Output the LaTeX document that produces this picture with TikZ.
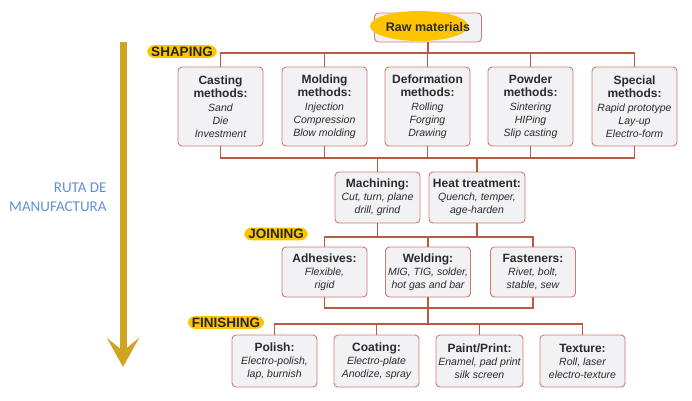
\documentclass[tikz,border=0pt]{standalone}
\usepackage{fontspec}
\setmainfont{Liberation Sans}
\newfontfamily\calib{Carlito}
\usetikzlibrary{arrows.meta}
\definecolor{wireC}{RGB}{186,88,66}
\definecolor{boxC}{RGB}{206,122,112}
\definecolor{fillC}{RGB}{242,242,244}
\definecolor{hiY}{RGB}{255,196,0}
\definecolor{goldC}{RGB}{207,163,35}
\definecolor{blueC}{RGB}{95,145,215}
\definecolor{textC}{RGB}{42,42,48}
\newcommand{\hd}[1]{{\fontsize{12}{13}\selectfont\bfseries\upshape #1}}

\begin{document}
\begin{tikzpicture}[x=1pt,y=-1pt,
  box/.style={draw=boxC,fill=fillC,rounded corners=4pt,line width=0.9pt,align=center,text=textC,
    font=\itshape\fontsize{10.5}{13}\selectfont,minimum width=85pt,inner sep=2pt},
  wire/.style={wireC,line width=1.8pt},
  tag/.style={fill=hiY,rounded corners=7pt,font=\bfseries\fontsize{13.5}{15}\selectfont,text=black!85,
    inner xsep=4pt,inner ysep=1.5pt}]
\useasboundingbox (0,0) rectangle (692,400);
% manufacturing route arrow
\draw[goldC,line width=7pt,-{Stealth[length=29pt,width=32pt,inset=13pt]}] (123,42) -- (123,367);
\node[blueC,anchor=east,align=right,font=\calib\fontsize{15}{19}\selectfont] (ruta) at (110,197) {RUTA DE\\MANUFACTURA};
% raw materials, highlighted
\node[box,minimum width=107pt,minimum height=29pt] (raw) at (428,27.5) {};
\fill[hiY] (419,26) ellipse (49 and 15);
\node[text=textC,font=\bfseries\fontsize{12.5}{14}\selectfont] (rawtxt) at (raw.center) {Raw materials};
% shaping
\node[box,minimum height=79pt] (cast) at (220.5,106.5) {\hd{Casting}\\\hd{methods:}\\[1.5pt]Sand\\Die\\Investment};
\node[box,minimum height=79pt] (mold) at (324.5,106.5) {\hd{Molding}\\\hd{methods:}\\[1.5pt]Injection\\Compression\\Blow molding};
\node[box,minimum height=79pt] (deform) at (427.5,106.5) {\hd{Deformation}\\\hd{methods:}\\[1.5pt]Rolling\\Forging\\Drawing};
\node[box,minimum height=79pt] (powder) at (530.5,106.5) {\hd{Powder}\\\hd{methods:}\\[1.5pt]Sintering\\HIPing\\Slip casting};
\node[box,minimum height=79pt] (special) at (634.5,106.5) {\hd{Special}\\\hd{methods:}\\[1.5pt]Rapid prototype\\Lay-up\\Electro-form};
\node[box,minimum height=51pt] (mach) at (377.5,197.5) {\hd{Machining:}\\Cut, turn, plane\\drill, grind};
\node[box,minimum height=51pt,minimum width=96pt] (heat) at (477,197.5) {\hd{Heat treatment:}\\Quench, temper,\\age-harden};
% joining
\node[box,minimum height=50pt] (adhes) at (324.5,272) {\hd{Adhesives:}\\Flexible,\\rigid};
\node[box,minimum height=50pt] (weld) at (428,272) {\hd{Welding:}\\MIG, TIG, solder,\\hot gas and bar};
\node[box,minimum height=50pt] (fasten) at (533,272) {\hd{Fasteners:}\\Rivet, bolt,\\stable, sew};
% finishing
\node[box,minimum height=52pt] (polish) at (274.5,361) {\hd{Polish:}\\Electro-polish,\\lap, burnish};
\node[box,minimum height=52pt] (coat) at (376.5,361) {\hd{Coating:}\\Electro-plate\\Anodize, spray};
\node[box,minimum height=52pt,minimum width=87pt] (paint) at (479.5,361) {\hd{Paint/Print:}\\Enamel, pad print\\silk screen};
\node[box,minimum height=52pt] (texture) at (582.5,361) {\hd{Texture:}\\Roll, laser\\electro-texture};
% bus lines
\coordinate (shbus) at (428,53);
\coordinate (lowbus) at (428,158);
\coordinate (jbus) at (428,237);
\coordinate (wbus) at (428,308);
\coordinate (fbus) at (428,324);
\draw[wire] (raw) -- (shbus);
\foreach \n in {cast,mold,deform,powder,special} {
  \draw[wire] (\n.north) |- (shbus);
  \draw[wire] (\n.south) |- (lowbus);
}
\draw[wire] (mach.north) |- (lowbus);
\draw[wire] (heat.north) |- (lowbus);
\draw[wire] (mach.south) |- (jbus);
\draw[wire] (heat.south) |- (jbus);
\foreach \n in {adhes,weld,fasten} {
  \draw[wire] (\n.north) |- (jbus);
  \draw[wire] (\n.south) |- (wbus);
}
\draw[wire] (wbus) -- (fbus);
\foreach \n in {polish,coat,paint,texture}
  \draw[wire] (\n.north) |- (fbus);
% stage tags
\node[tag] (shaping) at (182,51.5) {SHAPING};
\node[tag] (joining) at (276,234) {JOINING};
\node[tag] (finishing) at (226,322.5) {FINISHING};
\end{tikzpicture}
\end{document}
